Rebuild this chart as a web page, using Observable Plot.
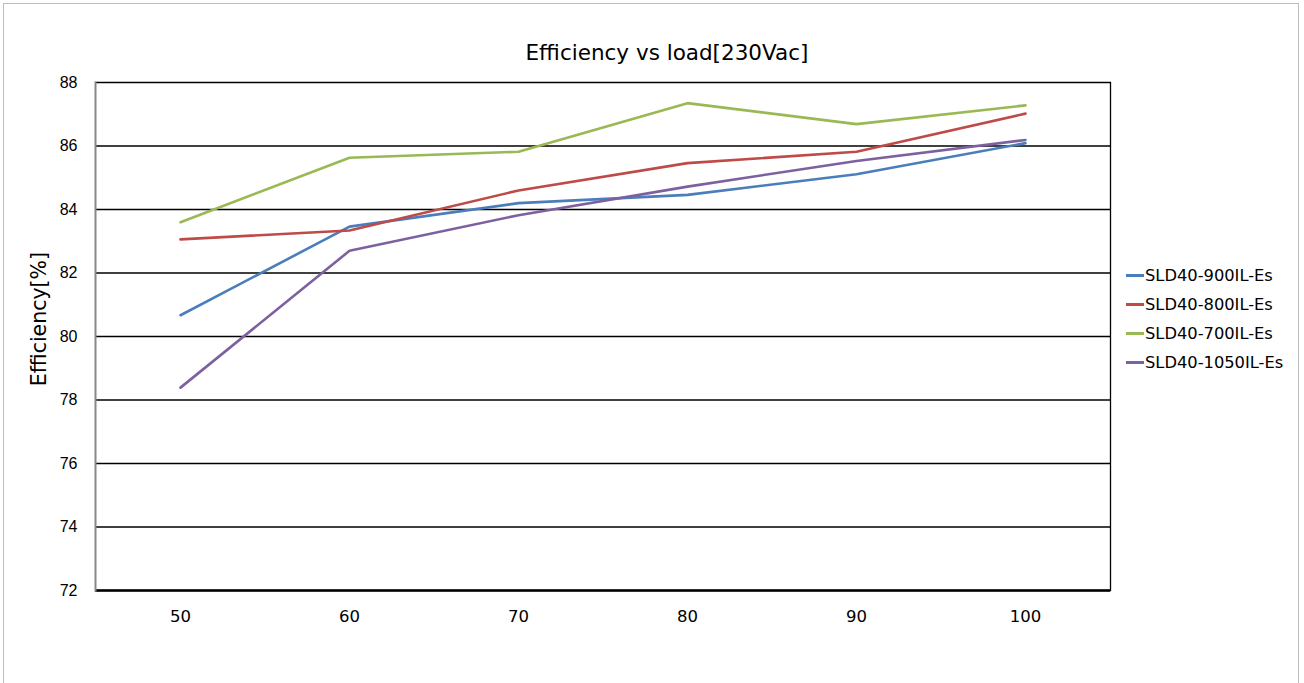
<!DOCTYPE html>
<html>
<head>
<meta charset="utf-8">
<script src="https://cdn.jsdelivr.net/npm/d3@7"></script>
<script src="https://cdn.jsdelivr.net/npm/@observablehq/plot@0.6"></script>
<style>
  html, body { margin: 0; padding: 0; background: #fff; }
  #wrap { position: relative; width: 1304px; height: 683px; overflow: hidden; }
  #frame { position: absolute; left: 3px; top: 3px; width: 1296px; height: 700px; border: 1px solid #bdbdbd; box-sizing: border-box; pointer-events: none; }
  #title { position: absolute; left: 0; width: 1334px; top: 40px; text-align: center; font-family: "DejaVu Sans", sans-serif; font-size: 21.5px; color: #000; }
  #ylabel { position: absolute; left: 0; top: 0; width: 150px; height: 24px; line-height: 24px; text-align: center; transform-origin: 75px 12px; transform: translate(-36px, 307px) rotate(-90deg); font-family: "DejaVu Sans", sans-serif; font-size: 20.5px; white-space: nowrap; color: #000; }
  #legend { position: absolute; left: 1126px; top: 261px; font-family: "DejaVu Sans", sans-serif; font-size: 16.3px; color: #000; }
  .item { height: 29px; display: flex; align-items: center; }
  .sw { width: 18px; height: 3px; margin-right: 1px; }
  #chart { position: absolute; left: 0; top: 0; }
</style>
</head>
<body>
<div id="wrap">
  <div id="chart"></div>
  <div id="title">Efficiency vs load[230Vac]</div>
  <div id="ylabel">Efficiency[%]</div>
  <div id="legend"></div>
  <div id="frame"></div>
</div>
<script>
const loads = [50, 60, 70, 80, 90, 100];
const seriesNames = ["SLD40-900IL-Es", "SLD40-800IL-Es", "SLD40-700IL-Es", "SLD40-1050IL-Es"];
const seriesColors = ["#4a7ebb", "#be4b48", "#98b954", "#7d60a0"];
const eff900  = [80.67, 83.46, 84.20, 84.46, 85.11, 86.09];
const eff800  = [83.06, 83.34, 84.60, 85.46, 85.82, 87.02];
const eff700  = [83.60, 85.63, 85.82, 87.35, 86.69, 87.28];
const eff1050 = [78.39, 82.70, 83.82, 84.72, 85.53, 86.19];
const yTicks = [72, 74, 76, 78, 80, 82, 84, 86, 88];

const allSeries = [eff900, eff800, eff700, eff1050];
const data = [];
allSeries.forEach((vals, i) => vals.forEach((v, j) => data.push({series: seriesNames[i], load: loads[j], eff: v})));

const plot = Plot.plot({
  width: 1304,
  height: 683,
  marginLeft: 95,
  marginRight: 194,
  marginTop: 82,
  marginBottom: 93,
  style: {background: "transparent", overflow: "visible"},
  x: {type: "point", domain: loads, padding: 0.5},
  y: {domain: [72, 88]},
  color: {domain: seriesNames, range: seriesColors},
  marks: [
    Plot.ruleY(yTicks, {stroke: "#000", strokeWidth: 1.3}),
    Plot.ruleY([72], {stroke: "#000", strokeWidth: 2.5}),
    Plot.frame({anchor: "right", stroke: "#000", strokeWidth: 1.3}),
    Plot.frame({anchor: "left", stroke: "#888", strokeWidth: 2}),
    Plot.line(data, {x: "load", y: "eff", z: "series", stroke: "series", strokeWidth: 2.6, curve: "linear"}),
    Plot.axisY({ticks: yTicks, tickSize: 0, tickPadding: 18, fontSize: 16, fontFamily: "Liberation Sans, Arial, sans-serif", fill: "#000", label: null}),
    Plot.axisX({tickSize: 0, tickPadding: 20, fontSize: 16.5, fontFamily: "DejaVu Sans, sans-serif", fill: "#000", label: null})
  ]
});
document.getElementById("chart").appendChild(plot);

const legend = document.getElementById("legend");
seriesNames.forEach((n, i) => {
  const it = document.createElement("div");
  it.className = "item";
  it.innerHTML = `<span class="sw" style="background:${seriesColors[i]}"></span><span>${n}</span>`;
  legend.appendChild(it);
});
</script>
</body>
</html>
